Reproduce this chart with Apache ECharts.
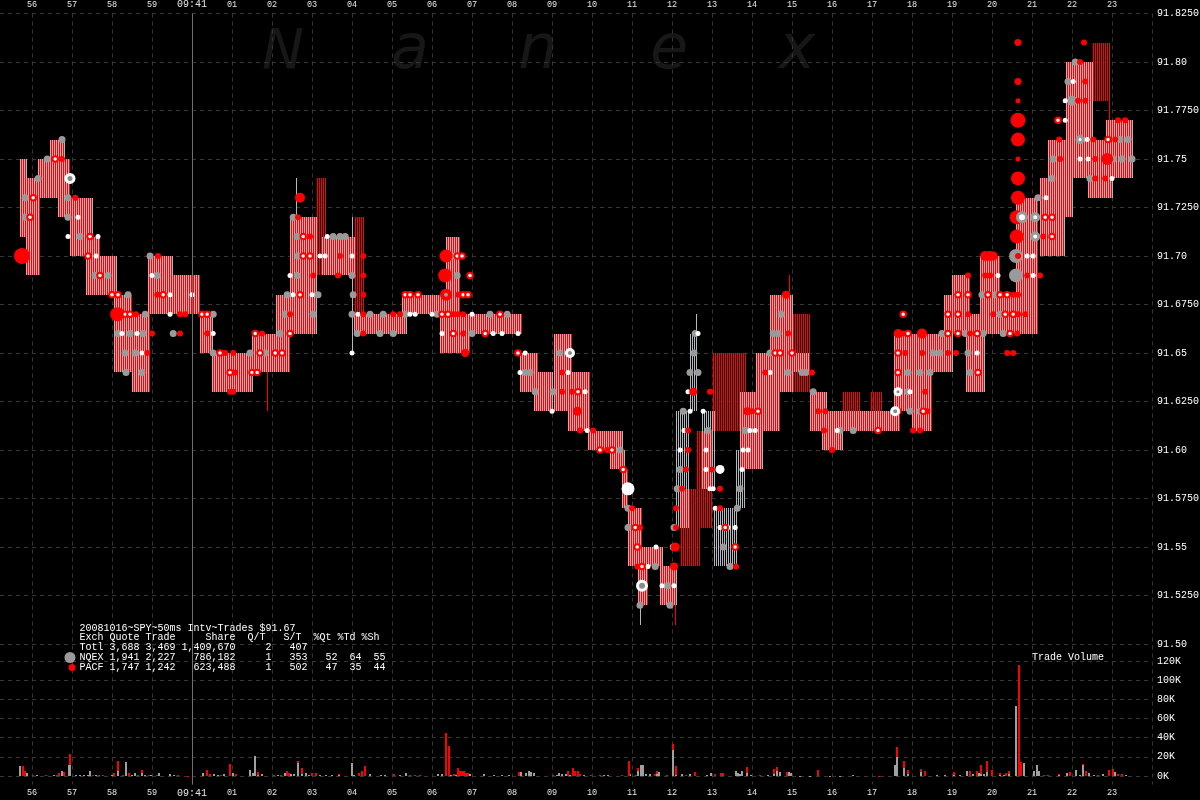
<!DOCTYPE html>
<html><head><meta charset="utf-8">
<script src="https://cdn.jsdelivr.net/npm/echarts@6.0.0/dist/echarts.min.js"></script>
<style>html,body{margin:0;padding:0;background:#000;}#c{width:1200px;height:800px;}</style>
</head><body><div id="c"></div>
<script>
// ---------- DATA (time = seconds after 09:40:00, price in $) ----------
const secondLabels = ['56','57','58','59','09:41','01','02','03','04','05','06','07','08','09','10','11','12','13','14','15','16','17','18','19','20','21','22','23'];

// quote ranges: [tStart, tEnd, low, high, kind]  kind 0 = NQEX+PACF, 1 = NQEX only, 2 = PACF only
const quoteBlocks = [
 [55.73,55.88,91.71,91.75,0],[55.88,56.20,91.69,91.74,0],[56.15,56.45,91.73,91.75,0],[56.45,56.83,91.73,91.76,0],
 [56.68,56.95,91.72,91.75,0],[56.95,57.53,91.70,91.73,0],[57.35,57.70,91.68,91.71,0],[57.53,58.13,91.68,91.70,0],
 [58.08,58.50,91.64,91.68,0],[58.50,58.95,91.63,91.67,0],[58.90,59.53,91.67,91.70,0],[59.53,60.20,91.67,91.69,0],
 [60.20,60.53,91.65,91.67,0],[60.53,61.53,91.63,91.65,0],[61.53,62.10,91.64,91.66,0],[62.10,62.45,91.64,91.68,0],
 [62.45,62.70,91.66,91.72,0],[62.70,63.13,91.66,91.72,0],[63.13,63.38,91.69,91.74,2],[63.25,64.08,91.69,91.71,0],
 [64.08,64.33,91.67,91.72,2],[64.08,65.38,91.66,91.67,0],[65.25,66.38,91.67,91.68,0],[66.38,66.70,91.67,91.71,0],
 [66.20,66.95,91.65,91.67,0],[66.88,68.25,91.66,91.67,0],[68.20,68.65,91.63,91.65,0],[68.58,69.03,91.62,91.64,0],
 [69.08,69.50,91.62,91.66,0],[69.40,69.95,91.61,91.64,0],[69.90,70.78,91.60,91.61,0],[70.45,70.83,91.59,91.60,0],
 [70.78,70.90,91.57,91.59,0],[70.90,71.25,91.54,91.57,0],[71.08,71.78,91.54,91.55,0],[71.15,71.40,91.52,91.54,0],
 [71.70,72.13,91.52,91.54,0],[72.20,72.70,91.54,91.58,2],[72.60,73.03,91.56,91.61,2],[73.03,73.88,91.61,91.65,2],
 [72.13,72.45,91.56,91.62,1],[72.45,72.65,91.62,91.66,1],[72.78,73.08,91.58,91.62,1],[73.08,73.63,91.54,91.57,1],
 [73.63,73.83,91.57,91.60,1],[73.70,74.28,91.59,91.63,0],[74.13,74.70,91.61,91.65,0],[74.45,75.03,91.63,91.68,0],
 [75.03,75.45,91.63,91.67,2],[75.03,75.45,91.64,91.65,0],[75.45,75.88,91.61,91.63,0],[75.78,76.28,91.60,91.62,0],
 [75.88,77.70,91.61,91.62,0],[76.28,76.70,91.61,91.63,2],[76.95,77.25,91.61,91.63,2],
 [77.58,78.03,91.62,91.66,0],[78.03,78.50,91.61,91.66,0],[78.38,79.03,91.64,91.66,0],[78.83,79.45,91.66,91.68,0],
 [79.03,79.45,91.67,91.69,0],[79.38,79.83,91.63,91.67,0],[79.70,80.20,91.66,91.70,0],[80.20,80.70,91.66,91.68,0],
 [80.60,81.15,91.66,91.73,0],[81.20,81.83,91.70,91.74,0],[81.40,82.03,91.72,91.76,0],[81.88,82.53,91.74,91.80,0],
 [82.53,82.95,91.78,91.81,2],[82.40,83.03,91.73,91.76,0],[82.88,83.53,91.74,91.77,0]
];
// single quote lines: [t, low, high, kind]
const quoteSpikes = [
 [61.88,91.62,91.65,2],[62.60,91.66,91.74,1],[64.03,91.65,91.72,1],[66.55,91.65,91.71,1],[72.63,91.66,91.67,1],
 [74.93,91.68,91.69,2],[71.20,91.51,91.52,1],[72.05,91.51,91.54,2],[82.90,91.75,91.81,2],[82.80,91.78,91.81,2]
];

// trades: [t, price, (size)]
const tradesNQEX = [
 [55.83,91.73],[55.83,91.72],[56.15,91.74],[56.38,91.75],[56.75,91.76],[56.90,91.73],[56.90,91.72],[57.20,91.71],[57.58,91.69],[57.90,91.69],
 [58.40,91.68],[58.83,91.67],[58.15,91.66],[58.45,91.66],[58.78,91.66],[58.33,91.65],[58.58,91.65],[58.35,91.64],[58.75,91.64],[58.95,91.70],
 [59.13,91.69],[59.53,91.66],[60.53,91.67],[60.53,91.65],[61.45,91.65],[61.83,91.65],[62.20,91.66],[62.33,91.67],[62.38,91.68],[62.53,91.72],
 [62.63,91.71],[62.65,91.70],[62.63,91.69],[63.15,91.68],[63.03,91.67],[63.53,91.71],[63.70,91.71],[63.83,91.71],[64.00,91.69],[64.03,91.68],
 [64.00,91.67],[64.45,91.67],[64.13,91.66],[64.70,91.66],[65.03,91.66],[64.78,91.67],[65.33,91.67],[66.13,91.67],[66.50,91.70],[66.63,91.69],
 [67.00,91.66],[67.45,91.67],[67.88,91.67],[68.33,91.64],[68.45,91.64],[68.58,91.63],[69.03,91.63],[69.20,91.65],[70.70,91.60],[70.90,91.57],
 [70.90,91.56],[71.58,91.54],[71.20,91.52],[71.90,91.53],[71.95,91.52],[72.03,91.55],[72.05,91.56],[72.13,91.58],[72.20,91.59],[72.28,91.62],
 [72.45,91.64],[72.65,91.64],[72.55,91.65],[72.58,91.66],[72.90,91.61],[73.28,91.55],[73.45,91.54],[73.63,91.57],[73.70,91.58],[73.83,91.61],
 [74.45,91.65],[74.53,91.66],[74.65,91.66],[74.73,91.67],[74.90,91.64],[75.25,91.64],[75.35,91.64],[75.53,91.63],[76.20,91.61],[76.53,91.61],
 [77.90,91.64],[77.90,91.63],[77.95,91.62],[78.20,91.62],[78.20,91.64],[78.45,91.64],[78.53,91.65],[78.70,91.65],[78.75,91.66],[79.33,91.66],
 [79.78,91.66],[79.40,91.65],[79.45,91.64],[79.75,91.68],[80.08,91.68],[80.20,91.67],[80.28,91.66],[80.70,91.71],[81.15,91.73],[81.50,91.74],
 [81.53,91.75],[81.90,91.79],[82.08,91.80],[82.45,91.74],[83.03,91.75],[83.25,91.75],[83.50,91.75],[83.20,91.76],[83.40,91.76],
 [80.60,91.70,14],[80.60,91.69,14],[82.00,91.78,10]
];
const tradesPACF = [
 [56.75,91.75],[57.08,91.73],[58.60,91.67],[58.88,91.65],[59.00,91.66],[59.15,91.70],[59.13,91.68],[59.70,91.67],[59.83,91.67],[59.70,91.66],
 [60.38,91.66],[60.83,91.65],[61.03,91.65],[61.08,91.64],[60.95,91.63],[61.03,91.63],[61.75,91.66],[62.45,91.67],[62.65,91.72],[62.95,91.71],
 [63.03,91.69],[63.70,91.70],[63.65,91.69],[64.28,91.70],[64.28,91.69],[64.28,91.68],[64.28,91.67],[64.28,91.66],[65.03,91.67],[65.20,91.67],
 [66.53,91.67],[66.65,91.67],[66.78,91.67],[66.65,91.68],[66.78,91.66],[69.25,91.63],[69.25,91.64],[69.50,91.63],[69.70,91.61],[70.03,91.61],
 [70.38,91.60],[71.00,91.57],[71.20,91.56],[71.13,91.54],[72.10,91.56],[72.10,91.57],[72.25,91.58],[72.35,91.59],[72.40,91.60],[72.40,91.61],
 [72.95,91.63],[73.00,91.59],[73.20,91.58],[73.20,91.57],[73.60,91.54],[74.00,91.62],[74.33,91.64],[74.90,91.66],[75.50,91.64],[75.65,91.62],
 [75.83,91.62],[75.80,91.61],[76.00,91.60],[77.83,91.65],[77.78,91.66],[78.03,91.61],[78.20,91.61],[78.38,91.62],[78.33,91.63],[78.25,91.65],
 [78.90,91.65],[79.10,91.65],[79.40,91.69],[79.40,91.67],[79.45,91.66],[79.83,91.69],[79.95,91.69],[80.53,91.68],[80.65,91.68],[80.03,91.67],
 [80.65,91.67],[80.83,91.67],[80.63,91.66],[80.38,91.65],[80.53,91.65],[80.65,91.70],[80.88,91.69],[81.20,91.69],[81.28,91.71],[81.70,91.75],
 [81.68,91.76],[82.15,91.78],[82.33,91.78],[82.33,91.79],[82.20,91.80],[82.30,91.81],[82.53,91.76],[82.58,91.75],[82.58,91.74],[82.83,91.74],
 [83.08,91.76],[83.15,91.77],[83.33,91.77],
 [55.75,91.70,16],[58.13,91.67,14],[62.70,91.73,10],[66.35,91.70,13],[66.33,91.69,14],[66.83,91.65,8],[69.63,91.62,9],[72.05,91.54,8],
 [72.08,91.55,9],[72.53,91.63,8],[73.88,91.62,8],[74.85,91.68,8],[77.65,91.66,9],[78.25,91.66,10],[79.83,91.70,10],[79.95,91.70,10],
 [80.03,91.70,9],[80.65,91.81,7],[80.65,91.79,7],[80.65,91.78,5],[80.65,91.77,15],[80.65,91.76,14],[80.65,91.75,5],[80.65,91.74,14],
 [80.65,91.73,14],[80.62,91.72,14],[80.62,91.71,14],[82.88,91.75,12]
];
const tradesPACFmarked = [
 [56.03,91.73],[55.95,91.72],[56.58,91.75],[57.45,91.71],[57.40,91.70],[57.70,91.69],[58.00,91.68],[58.15,91.68],[58.33,91.67],[58.45,91.67],
 [59.28,91.68],[60.25,91.67],[60.38,91.67],[60.70,91.65],[60.95,91.64],[61.50,91.64],[61.63,91.64],[61.70,91.65],[62.08,91.65],[62.25,91.65],
 [61.58,91.66],[62.45,91.66],[62.70,91.68],[62.78,91.71],[62.78,91.70],[62.95,91.70],[65.33,91.68],[65.45,91.68],[65.65,91.68],[66.25,91.67],
 [66.40,91.67],[66.63,91.70],[66.75,91.70],[66.95,91.69],[66.78,91.68],[66.90,91.68],[66.53,91.66],[67.33,91.66],[67.70,91.67],[68.15,91.65],
 [69.65,91.63],[70.20,91.60],[70.50,91.60],[70.78,91.59],[71.08,91.56],[71.13,91.55],[71.25,91.54],[73.33,91.56],[73.58,91.55],[74.15,91.62],
 [74.58,91.65],[74.70,91.65],[75.00,91.65],[77.15,91.61],[77.65,91.62],[77.65,91.64],[77.65,91.65],[77.90,91.66],[77.78,91.67],[78.28,91.62],
 [78.90,91.66],[79.15,91.66],[78.90,91.67],[79.15,91.67],[79.15,91.68],[79.40,91.68],[79.63,91.66],[79.65,91.64],[79.90,91.68],[80.20,91.68],
 [80.38,91.68],[80.33,91.67],[80.53,91.67],[80.45,91.66],[81.33,91.72],[81.50,91.72],[81.50,91.71],[81.65,91.77],[82.90,91.76]
];
const tradesWhite = [
 [57.15,91.72],[56.90,91.71],[57.65,91.71],[57.60,91.70],[58.25,91.66],[58.63,91.66],[58.75,91.65],[59.00,91.69],[59.45,91.68],[60.00,91.68],
 [59.45,91.67],[60.53,91.66],[62.53,91.68],[62.45,91.69],[63.00,91.68],[63.38,91.71],[63.20,91.70],[63.33,91.70],[64.00,91.70],[64.00,91.65],
 [64.15,91.67],[65.45,91.67],[65.58,91.67],[66.00,91.67],[67.00,91.67],[66.25,91.66],[67.53,91.66],[67.75,91.66],[68.15,91.66],[68.33,91.65],
 [68.20,91.64],[69.00,91.62],[69.40,91.64],[69.83,91.63],[69.88,91.61],[71.60,91.55],[71.40,91.54],[71.75,91.53],[72.05,91.53],[72.20,91.60],
 [72.30,91.61],[72.45,91.62],[72.78,91.62],[72.40,91.63],[72.65,91.66],[72.85,91.60],[72.85,91.59],[72.95,91.58],[73.03,91.58],[73.08,91.57],
 [73.20,91.56],[73.40,91.56],[73.58,91.56],[73.75,91.59],[73.78,91.60],[73.90,91.60],[73.95,91.61],[74.08,91.61],[74.45,91.64],[76.13,91.61],
 [77.95,91.63],[79.63,91.65],[80.15,91.69],[80.88,91.70],[81.03,91.70],[81.03,91.69],[81.35,91.73],[81.83,91.77],[81.83,91.78],[82.03,91.79],
 [82.38,91.76],[82.20,91.75],[82.40,91.75],[83.00,91.74],
 [73.20,91.59,9],[70.90,91.58,13]
];
const ringsWhite = [[56.95,91.74,11],[69.45,91.65,10],[71.25,91.53,12],[77.58,91.62,10],[77.65,91.63,9]];
const ringsGray  = [[80.75,91.72,12],[81.08,91.72,10],[81.08,91.71,10],[82.20,91.76,9]];
const ringsRed   = [[66.35,91.68,12]];

// trade volume per 50ms interval: [t, thousands of shares]
const volNQEX = [
 [55.70,10],[55.88,3.5],[56.13,1],[56.55,1],[56.75,5.5],[56.93,12],[56.95,11.8],[57.10,0.6],[57.20,0.6],[57.30,0.6],[57.40,0.6],[57.45,5.5],
 [57.60,1],[58.00,1],[58.15,5.5],[58.35,15],[58.50,1],[58.58,3.5],[58.75,3.5],[58.83,1],[58.98,1.5],[59.18,3.5],[59.45,2.5],[59.55,1],
 [60.28,3.5],[60.55,2.5],[60.65,1.5],[60.80,2.5],[61.03,3.5],[61.45,6.6],[61.53,3.5],[61.58,21],[61.65,1.4],[61.75,2.5],[62.15,1],[62.33,3.5],
 [62.48,2.5],[62.55,2.5],[62.65,13.9],[62.75,2.5],[62.85,3.5],[62.93,1.5],[63.20,0.7],[63.35,0.7],[63.50,0.7],[63.68,0.7],[64.00,14],[64.05,1],
 [64.45,2.5],[64.73,0.7],[64.83,0.7],[65.20,1],[65.35,3.5],[66.15,2.5],[66.25,2.5],[66.48,1.4],[66.60,1],[66.95,2.5],[67.30,2.5],[67.55,1],
 [67.75,1],[67.93,1],[68.23,4.5],[68.35,3.5],[68.43,5.5],[68.48,4.5],[68.55,3],[69.13,1.4],[69.18,3.5],[69.25,2.5],[69.35,2.5],[69.45,1.4],
 [69.80,1],[70.30,1],[70.40,1],[70.95,1.7],[71.15,5],[71.23,11.5],[71.28,11.5],[71.35,1.7],[71.45,1.7],[71.63,2],[71.68,4],[72.03,27],
 [72.10,1],[72.25,1.7],[72.45,1.7],[72.88,1],[72.98,3.5],[73.60,5.2],[73.65,3.5],[73.70,2.5],[73.75,5],[73.88,3.5],[73.98,1],[74.40,1],
 [74.55,2],[74.63,5.2],[74.70,4.5],[74.93,4],[74.98,3.5],[75.20,0.5],[75.45,0.5],[75.95,0.5],[76.20,0.5],[76.53,1.4],[77.58,12],[77.63,20],
 [77.80,8.7],[77.90,2],[78.23,4],[78.63,1],[78.83,1],[79.05,1],[79.20,1],[79.38,5],[79.53,2.5],[79.68,3],[79.73,2],[79.80,2],[79.88,4],
 [80.20,1],[80.30,1.4],[80.43,2],[80.60,73],[80.80,13.6],[81.05,5],[81.13,12],[81.18,5],[81.68,1],[81.88,3.5],[82.10,6],[82.20,1.4],
 [82.28,12],[82.43,3],[82.55,1.4],[82.78,2],[83.08,4],[83.35,1]
];
const volPACF = [
 [55.78,10],[55.83,5],[56.03,1.5],[56.35,1.4],[56.63,1.4],[56.68,3],[56.80,4],[56.95,11.5],[57.53,1.4],[57.68,1.4],[57.78,0.7],[58.05,3.5],
 [58.15,10.4],[58.28,1],[58.43,3.5],[58.65,1.4],[58.75,3],[58.93,1],[59.13,1.5],[59.65,1],[59.90,0.5],[60.38,6.6],[60.45,2.5],[60.73,1],
 [60.95,13],[61.10,2.5],[61.65,2.5],[62.05,1],[62.23,1.4],[62.38,5.5],[62.43,3],[62.65,2.1],[62.75,5.5],[63.00,3.5],[63.10,3.5],[63.68,1.4],
 [64.18,3.5],[64.25,5.5],[64.33,10.8],[65.05,2.5],[65.45,1.4],[65.58,0.7],[65.70,0.7],[66.35,45],[66.43,31],[66.55,2.5],[66.65,8.7],[66.70,5.5],
 [66.75,5.5],[66.80,5.5],[66.85,3],[66.90,3],[68.18,4.5],[69.03,1.4],[69.40,5.5],[69.53,8.7],[69.58,5.5],[69.65,5.5],[69.70,2.5],[69.98,1.4],
 [70.20,1],[70.75,1],[70.93,15.7],[71.10,1],[71.15,3.7],[71.58,1.7],[71.63,3],[71.88,1],[72.03,6],[72.10,9],[72.35,1],[72.58,4],[73.08,2],
 [73.23,3],[73.28,3],[73.88,5.5],[74.20,1],[74.55,5.2],[74.63,4],[74.88,3.8],[75.65,5.8],[77.18,0.5],[77.63,10],[77.80,7.3],[77.90,4],
 [78.23,3.6],[78.33,5],[79.05,3.5],[79.45,5],[79.63,5.2],[79.73,10],[79.88,12],[80.00,5.8],[80.20,2],[80.35,3],[80.43,3],[80.68,116],
 [80.73,14.3],[81.30,1],[81.40,1.4],[81.68,1],[81.95,4.2],[82.28,1],[82.35,5],[82.65,1.4],[82.93,6],[83.03,7],[83.15,2.5],[83.25,2.5]
];

const legendRows = [
 '20081016~SPY~50ms Intv~Trades $91.67',
 'Exch Quote Trade     Share  Q/T   S/T  %Qt %Td %Sh',
 'Totl 3,688 3,469 1,409,670     2   407',
 'NQEX 1,941 2,227   786,182     1   353   52  64  55',
 'PACF 1,747 1,242   623,488     1   502   47  35  44'
];
const watermark = ['N','a','n','e','x'];
const minuteMark = 60; // 09:41:00

// ---------- STYLE ----------
const Q_GRAY = '#b0b8c0', RED = '#ff0000', DOT_GRAY = '#9a9a9a', VOL_GRAY = '#a0a0a0';
const GRID_LINE = {show: true, lineStyle: {color: '#363636', width: 1, type: [4, 4]}};
const MONO = 'Liberation Mono';

// each 50ms interval is 2px wide: NQEX quote line on the even pixel, PACF quote line on the odd pixel
function makeStripe(c0, c1) {
  const cv = document.createElement('canvas');
  cv.width = 2; cv.height = 1;
  const ctx = cv.getContext('2d');
  if (c0) { ctx.fillStyle = c0; ctx.fillRect(0, 0, 1, 1); }
  if (c1) { ctx.fillStyle = c1; ctx.fillRect(1, 0, 1, 1); }
  return {image: cv, repeat: 'repeat'};
}
const stripeFills = [makeStripe(Q_GRAY, RED), makeStripe(Q_GRAY, null), makeStripe(null, RED)];

function stripeItem(params, api) {
  const t0 = api.value(0), t1 = api.value(1), lo = api.value(2), hi = api.value(3), kind = api.value(4);
  const a = api.coord([t0, hi]), b = api.coord([t1, lo]);
  let xa = Math.round(a[0]);
  const xb = Math.round(b[0]);
  xa -= ((xa % 2) + 2) % 2;
  const yT = Math.round(a[1]), yB = Math.round(b[1]);
  return {type: 'rect', shape: {x: xa, y: yT, width: Math.max(2, xb - xa), height: Math.max(1, yB - yT)},
          style: {fill: stripeFills[kind] || stripeFills[0]}};
}
function spikeItem(params, api) {
  const a = api.coord([api.value(0), api.value(2)]), b = api.coord([api.value(0), api.value(1)]);
  const kind = api.value(3);
  let x = Math.round(a[0]);
  if (kind === 2 && x % 2 === 0) x += 1;
  if (kind !== 2 && x % 2 !== 0) x -= 1;
  return {type: 'rect', shape: {x: x, y: Math.round(a[1]), width: 1, height: Math.max(1, Math.round(b[1]) - Math.round(a[1]))},
          style: {fill: kind === 2 ? RED : Q_GRAY}};
}
const nqexMap = {};
volNQEX.forEach(d => { nqexMap[d[0].toFixed(2)] = d[1]; });
function volItem(isRed) {
  return function (params, api) {
    const t = api.value(0), v = api.value(1);
    const base = isRed ? (nqexMap[t.toFixed(2)] || 0) : 0;
    const p0 = api.coord([t, base]), p1 = api.coord([t, base + v]);
    const y0 = Math.round(p0[1]), y1 = Math.round(p1[1]);
    return {type: 'rect', shape: {x: Math.round(p0[0]) - 1, y: y1, width: 2, height: Math.max(1, y0 - y1)},
            style: {fill: isRed ? RED : VOL_GRAY}};
  };
}
function xLabel(v) {
  const i = Math.round(v) - 56;
  if (i < 0 || i >= secondLabels.length) return '';
  const s = secondLabels[i];
  return s.length > 2 ? '{big|' + s + '}' : s;
}
function priceLabel(v) {
  const c = Math.round(v * 10000);
  return (c % 100 === 0) ? (c / 10000).toFixed(2) : (c / 10000).toFixed(4);
}

const xBase = {type: 'value', min: 55, max: 84, interval: 1, axisLine: {show: false}, axisTick: {show: false}, splitLine: {show: false}};
const xLabelStyle = {color: '#e6e6e6', fontFamily: MONO, fontSize: 8.5, formatter: xLabel,
  rich: {big: {fontSize: 10, fontFamily: MONO, color: '#e6e6e6'}}};
const gridBase = {left: -8, width: 1160, containLabel: false, outerBoundsMode: 'none'};
const wmX = [283, 410, 538, 669, 797];

const chart = echarts.init(document.getElementById('c'));
chart.setOption({
  backgroundColor: '#000',
  animation: false,
  grid: [
    Object.assign({top: 13.5, height: 630.5}, gridBase),
    Object.assign({top: 661, height: 115}, gridBase),
    Object.assign({top: 13.5, height: 771}, gridBase)
  ],
  xAxis: [
    Object.assign({}, xBase, {gridIndex: 0, position: 'top', axisLabel: Object.assign({margin: 4}, xLabelStyle)}),
    Object.assign({}, xBase, {gridIndex: 1, position: 'bottom', axisLabel: Object.assign({margin: 12}, xLabelStyle)}),
    Object.assign({}, xBase, {gridIndex: 2, axisLabel: {show: false}, splitLine: GRID_LINE})
  ],
  yAxis: [
    {type: 'value', gridIndex: 0, position: 'right', min: 91.5, max: 91.825, interval: 0.025,
     axisLine: {show: false}, axisTick: {show: false}, splitLine: GRID_LINE,
     axisLabel: {color: '#ffffff', fontFamily: MONO, fontSize: 10, margin: 5, formatter: priceLabel}},
    {type: 'value', gridIndex: 1, position: 'right', min: 0, max: 120, interval: 20,
     axisLine: {show: false}, axisTick: {show: false}, splitLine: GRID_LINE,
     axisLabel: {color: '#ffffff', fontFamily: MONO, fontSize: 10, margin: 5, formatter: v => v + 'K'}},
    {type: 'value', gridIndex: 2, show: false, min: 0, max: 1}
  ],
  graphic: [].concat(
    watermark.map((ch, i) => ({
      type: 'text', silent: true, z: 0, x: wmX[i], y: i === 0 ? 53.5 : 51.5,
      style: {text: ch, fill: '#171717', font: 'italic ' + (i === 0 ? 56 : 62) + 'px "DejaVu Sans"',
              align: 'center', textAlign: 'center', verticalAlign: 'middle', textVerticalAlign: 'middle'}
    })),
    legendRows.map((row, i) => ({
      type: 'text', silent: true, z: 10, x: 79.5, y: 628 + 9.8 * i,
      style: {text: row, fill: '#ffffff', font: '10px "' + MONO + '"', align: 'left', textAlign: 'left',
              verticalAlign: 'middle', textVerticalAlign: 'middle'}
    })),
    [
      {type: 'circle', silent: true, z: 10, shape: {cx: 70, cy: 657.5, r: 5.5}, style: {fill: DOT_GRAY}},
      {type: 'circle', silent: true, z: 10, shape: {cx: 72, cy: 667.5, r: 3.5}, style: {fill: RED}},
      {type: 'text', silent: true, z: 10, x: 1032, y: 657,
       style: {text: 'Trade Volume', fill: '#ffffff', font: '10px "' + MONO + '"', align: 'left', textAlign: 'left',
               verticalAlign: 'middle', textVerticalAlign: 'middle'}}
    ]
  ),
  series: [
    {type: 'line', xAxisIndex: 2, yAxisIndex: 2, data: [], silent: true, showSymbol: false,
     markLine: {silent: true, symbol: ['none', 'none'], label: {show: false},
                lineStyle: {color: '#707070', width: 1, type: 'solid'}, data: [{xAxis: minuteMark}]}},
    {type: 'custom', name: 'quotes', xAxisIndex: 0, yAxisIndex: 0, data: quoteBlocks, renderItem: stripeItem,
     encode: {x: [0, 1], y: [2, 3]}, silent: true, z: 2},
    {type: 'custom', name: 'quoteSpikes', xAxisIndex: 0, yAxisIndex: 0, data: quoteSpikes, renderItem: spikeItem,
     encode: {x: 0, y: [1, 2]}, silent: true, z: 2},
    {type: 'scatter', name: 'NQEX', xAxisIndex: 0, yAxisIndex: 0, data: tradesNQEX, symbol: 'circle',
     symbolSize: v => v[2] || 7, itemStyle: {color: DOT_GRAY, opacity: 1}, silent: true, z: 3},
    {type: 'scatter', name: 'white', xAxisIndex: 0, yAxisIndex: 0, data: tradesWhite, symbol: 'circle',
     symbolSize: v => v[2] || 5, itemStyle: {color: '#ffffff', opacity: 1}, silent: true, z: 3},
    {type: 'scatter', name: 'PACF', xAxisIndex: 0, yAxisIndex: 0, data: tradesPACF, symbol: 'circle',
     symbolSize: v => v[2] || 6, itemStyle: {color: RED, opacity: 1}, silent: true, z: 4},
    {type: 'scatter', name: 'PACFmarked', xAxisIndex: 0, yAxisIndex: 0, data: tradesPACFmarked, symbol: 'circle',
     symbolSize: 5.5, itemStyle: {color: '#ffffff', borderColor: RED, borderWidth: 2, opacity: 1}, silent: true, z: 4},
    {type: 'scatter', name: 'ringWhite', xAxisIndex: 0, yAxisIndex: 0, data: ringsWhite, symbol: 'circle',
     symbolSize: v => v[2] - 3, itemStyle: {color: '#8a8a8a', borderColor: '#ffffff', borderWidth: 3, opacity: 1}, silent: true, z: 5},
    {type: 'scatter', name: 'ringGray', xAxisIndex: 0, yAxisIndex: 0, data: ringsGray, symbol: 'circle',
     symbolSize: v => v[2] - 3, itemStyle: {color: '#ffffff', borderColor: DOT_GRAY, borderWidth: 3, opacity: 1}, silent: true, z: 5},
    {type: 'scatter', name: 'ringRed', xAxisIndex: 0, yAxisIndex: 0, data: ringsRed, symbol: 'circle',
     symbolSize: v => v[2] - 4, itemStyle: {color: '#9a9a9a', borderColor: RED, borderWidth: 4, opacity: 1}, silent: true, z: 5},
    {type: 'custom', name: 'volNQEX', xAxisIndex: 1, yAxisIndex: 1, data: volNQEX, renderItem: volItem(false),
     encode: {x: 0, y: 1}, silent: true, z: 2},
    {type: 'custom', name: 'volPACF', xAxisIndex: 1, yAxisIndex: 1, data: volPACF, renderItem: volItem(true),
     encode: {x: 0, y: 1}, silent: true, z: 2}
  ]
});
</script></body></html>
